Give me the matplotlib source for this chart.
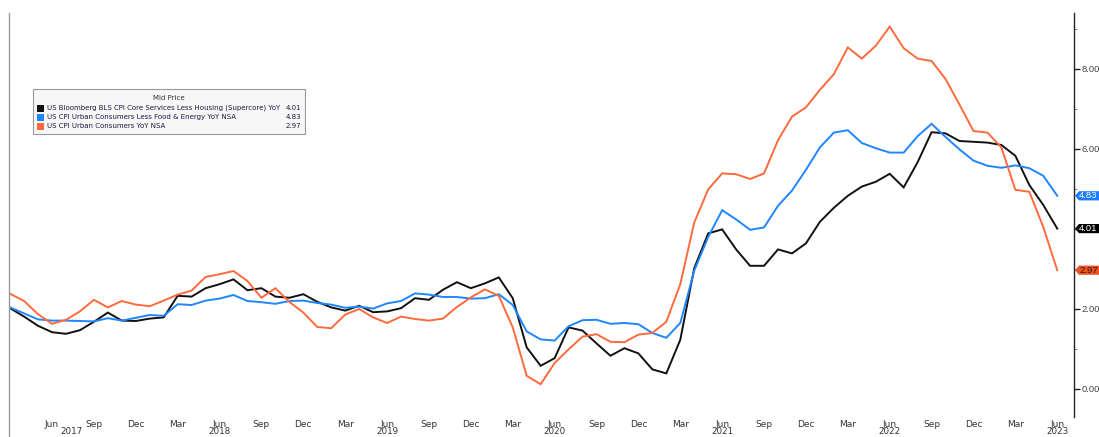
import numpy as np
import pandas as pd
import matplotlib
matplotlib.use('Agg')
import matplotlib.pyplot as plt
from matplotlib.lines import Line2D
from matplotlib.patches import Rectangle, Polygon
import matplotlib.transforms as mtransforms

# monthly, Mar 2017 .. Jun 2023
months = pd.date_range('2017-03-01', '2023-06-01', freq='MS')

supercore = [2.02, 1.81, 1.58, 1.42, 1.38, 1.47, 1.68, 1.91, 1.71, 1.70,
             1.76, 1.79, 2.33, 2.31, 2.52, 2.62, 2.74, 2.47, 2.52, 2.31, 2.28, 2.37,
             2.18, 2.04, 1.96, 2.08, 1.92, 1.94, 2.02, 2.27, 2.23, 2.48, 2.67, 2.52,
             2.64, 2.79, 2.27, 1.04, 0.58, 0.77, 1.54, 1.46, 1.14, 0.83, 1.02, 0.89,
             0.49, 0.39, 1.23, 3.02, 3.89, 3.99, 3.49, 3.08, 3.08, 3.49, 3.39, 3.64,
             4.18, 4.53, 4.83, 5.06, 5.18, 5.38, 5.04, 5.67, 6.42, 6.39, 6.20, 6.18,
             6.16, 6.10, 5.83, 5.10, 4.60, 4.01]

core = [2.04, 1.89, 1.74, 1.71, 1.71, 1.70, 1.69, 1.77, 1.71, 1.78,
        1.85, 1.83, 2.12, 2.10, 2.21, 2.26, 2.35, 2.20, 2.17, 2.13, 2.20, 2.21,
        2.15, 2.11, 2.03, 2.06, 2.01, 2.14, 2.20, 2.39, 2.36, 2.30, 2.30, 2.26,
        2.27, 2.37, 2.10, 1.44, 1.24, 1.21, 1.57, 1.72, 1.73, 1.63, 1.65, 1.62,
        1.40, 1.28, 1.65, 2.96, 3.80, 4.47, 4.24, 3.98, 4.04, 4.58, 4.96, 5.48,
        6.04, 6.41, 6.47, 6.15, 6.02, 5.91, 5.91, 6.32, 6.63, 6.30, 5.99, 5.71,
        5.58, 5.53, 5.59, 5.52, 5.33, 4.83]

headline = [2.38, 2.20, 1.87, 1.63, 1.73, 1.94, 2.23, 2.04, 2.20, 2.11,
            2.07, 2.21, 2.36, 2.46, 2.80, 2.87, 2.95, 2.70, 2.28, 2.52, 2.18, 1.91,
            1.55, 1.52, 1.86, 2.00, 1.79, 1.65, 1.81, 1.75, 1.71, 1.76, 2.05, 2.29,
            2.49, 2.33, 1.54, 0.33, 0.12, 0.65, 0.99, 1.31, 1.37, 1.18, 1.17, 1.36,
            1.40, 1.68, 2.62, 4.16, 4.99, 5.39, 5.37, 5.25, 5.39, 6.22, 6.81, 7.04,
            7.48, 7.87, 8.54, 8.26, 8.58, 9.06, 8.52, 8.26, 8.20, 7.75, 7.11, 6.45,
            6.41, 6.04, 4.98, 4.93, 4.05, 2.97]

names = ['US Bloomberg BLS CPI Core Services Less Housing (Supercore) YoY',
         'US CPI Urban Consumers Less Food & Energy YoY NSA',
         'US CPI Urban Consumers YoY NSA']
last_vals = ['4.01', '4.83', '2.97']
line_colors = ['#111111', '#1f86ff', '#ff6a3d']
tag_colors = ['#000000', '#1a7cff', '#f4511e']
tag_text = ['white', 'white', '#1a1a1a']

yticks = [0, 2, 4, 6, 8]
ytick_labels = ['0.00', '2.00', '', '6.00', '8.00']  # 4.00 sits under the 4.01 tag

W, H = 1099, 437
fig = plt.figure(figsize=(W / 100, H / 100), dpi=100)
fig.patch.set_facecolor('white')

def fx(px):
    return px / W

def fy(py):
    return 1 - py / H

ax_left, ax_right = 9, 1074
ax = fig.add_axes([fx(ax_left), fy(417), fx(ax_right) - fx(ax_left), fy(13) - fy(417)])
x = np.arange(len(months))
for vals, c in zip([supercore, core, headline], line_colors):
    ax.plot(x, vals, color=c, lw=1.4, solid_joinstyle='miter')

ax.set_xlim(-0.08, 76.2)
ax.set_ylim(-0.7, 9.4)

for s in ['top', 'bottom', 'left']:
    ax.spines[s].set_visible(False)
ax.spines['right'].set_color('#222222')
ax.spines['right'].set_linewidth(1.0)

ax.yaxis.tick_right()
ax.set_yticks(yticks)
ax.set_yticklabels(ytick_labels, family='Liberation Sans')
ax.set_yticks([1, 3, 5, 7, 9], minor=True)
ax.tick_params(axis='y', which='major', direction='out', length=4, width=1,
               color='#222222', labelsize=6.8, labelcolor='#444444', pad=1.5)
ax.tick_params(axis='y', which='minor', direction='out', length=2, width=0.8,
               color='#888888')

# month ticks every 3 months, starting Jun 2017
tick_idx = [i for i, d in enumerate(months) if d.month in (3, 6, 9, 12) and i > 0]
ax.set_xticks(tick_idx)
ax.set_xticklabels([months[i].strftime('%b') for i in tick_idx])
ax.tick_params(axis='x', length=0, labelsize=6.5, labelcolor='#333333', pad=2)

trans = mtransforms.blended_transform_factory(ax.transData, fig.transFigure)
for i in tick_idx:
    if months[i].month == 6:
        xi = i + 1.4 if months[i].year == 2017 else i
        ax.text(xi, fy(436), str(months[i].year), transform=trans, ha='center',
                va='bottom', fontsize=6.3, color='#333333', clip_on=False)

# left frame line
fig.add_artist(Line2D([fx(9), fx(9)], [fy(13), 0], color='#999999', lw=1.0))

# value tags on right axis
ax_w = ax_right - ax_left
ytrans = mtransforms.blended_transform_factory(ax.transAxes, ax.transData)
half = 4.6 / 40.0  # half tag height in data units (40 px per unit)
def ax_x(px):
    return (px - ax_left) / ax_w
for v, fc, tc in zip(last_vals, tag_colors, tag_text):
    y0 = float(v)
    pts = [(ax_x(1075), y0), (ax_x(1079), y0 + half), (ax_x(1100), y0 + half),
           (ax_x(1100), y0 - half), (ax_x(1079), y0 - half)]
    ax.add_patch(Polygon(pts, closed=True, transform=ytrans, fc=fc, ec='none',
                         clip_on=False))
    ax.text(ax_x(1079), y0, v, transform=ytrans, ha='left', va='center',
            fontsize=6.8, family='Liberation Sans', color=tc, clip_on=False)

# legend box
fig.add_artist(Rectangle((fx(33), fy(134)), fx(305) - fx(33), fy(89) - fy(134),
                         transform=fig.transFigure, fc='#f7f7f7', ec='#9a9a9a', lw=0.8))
fig.text(fx(169), fy(98), 'Mid Price', ha='center', va='center', fontsize=5.0, color='#333333')
row_y = [108, 117, 126]
for ry, name, val, c in zip(row_y, names, last_vals, line_colors):
    fig.add_artist(Rectangle((fx(37), fy(ry + 3.5)), fx(7), fy(0) - fy(7),
                             transform=fig.transFigure, fc=c, ec='none'))
    fig.text(fx(47), fy(ry), name, ha='left', va='center', fontsize=5.0, color='#1a1a40')
    fig.text(fx(301), fy(ry), val, ha='right', va='center', fontsize=5.0, color='#1a1a40')

fig.savefig('out.png', dpi=100)
